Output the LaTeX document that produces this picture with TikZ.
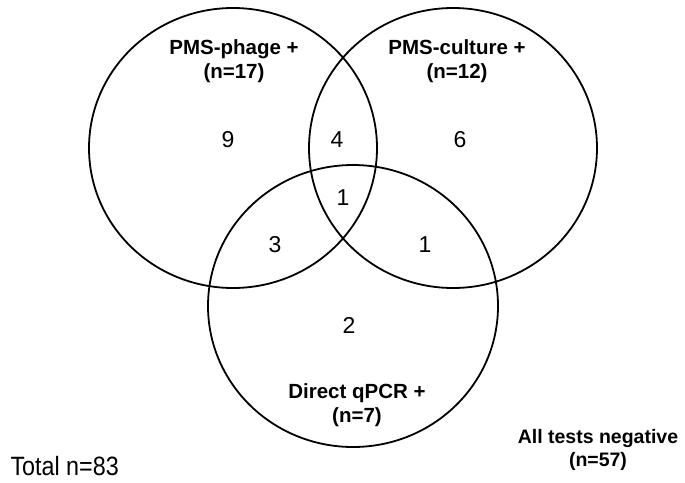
\documentclass[tikz,border=0pt]{standalone}
\usepackage{fontspec}
\setmainfont{Liberation Sans}
\newfontfamily\narrowsans[FakeStretch=0.88]{Liberation Sans}
\begin{document}
\begin{tikzpicture}[x=1pt,y=-1pt,
    setring/.style={line width=1.8pt},
    setlabel/.style={align=center,font=\bfseries\fontsize{20.5}{24}\selectfont},
    count/.style={font=\fontsize{23}{27}\selectfont}]
    \useasboundingbox (0,0) rectangle (685,482);
    % Circles
    \draw[setring] (233,148) ellipse (144 and 140);
    \draw[setring] (453,148) ellipse (144 and 140);
    \draw[setring] (353,306) ellipse (145 and 141);
    % Set labels
    \node[setlabel] (phage) at (234,61) {PMS-phage +\\(n=17)};
    \node[setlabel] (culture) at (457,61) {PMS-culture +\\(n=12)};
    \node[setlabel] (qpcr) at (357,405) {Direct qPCR +\\(n=7)};
    % Counts
    \node[count] (onlyphage) at (228,140) {9};
    \node[count] (phageculture) at (337,140) {4};
    \node[count] (onlyculture) at (460,140) {6};
    \node[count] (all) at (343,198) {1};
    \node[count] (phageqpcr) at (275,245) {3};
    \node[count] (cultureqpcr) at (425,245) {1};
    \node[count] (onlyqpcr) at (349,325) {2};
    % Totals
    \node[font=\narrowsans\fontsize{26.5}{30}\selectfont,anchor=west] (total) at (7,466) {Total n=83};
    \node[setlabel,font=\bfseries\fontsize{19.5}{23.5}\selectfont] (negative) at (598,450) {All tests negative\\(n=57)};
\end{tikzpicture}
\end{document}
